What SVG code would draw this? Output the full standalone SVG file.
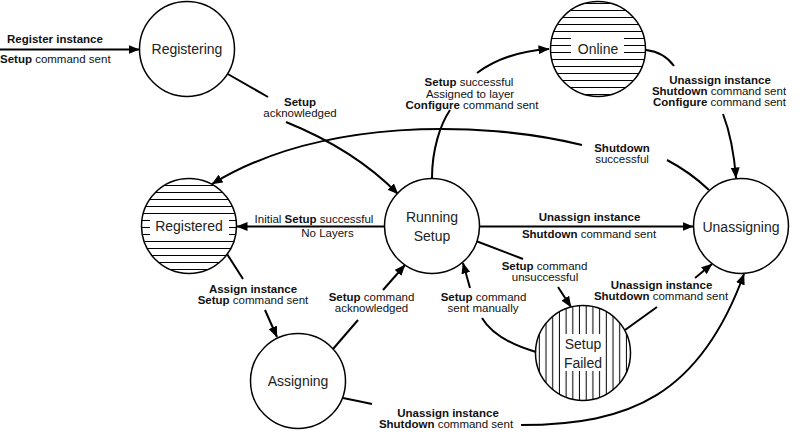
<svg xmlns="http://www.w3.org/2000/svg" width="800" height="435" viewBox="0 0 800 435">
<defs>
<style>
.node{fill:#fff;stroke:#000;stroke-width:1.5}
.hz{fill:url(#hz);stroke:#000;stroke-width:1.5}
.vt{fill:url(#vt);stroke:#000;stroke-width:1.5}
.nl{font-family:"Liberation Sans",Arial,sans-serif;font-size:14px;fill:#222;text-anchor:middle}
.el{font-family:"Liberation Sans",Arial,sans-serif;font-size:11.5px;fill:#111;text-anchor:middle}
.st{text-anchor:start}
.b{font-weight:bold}
.c{fill:none;stroke:#000;stroke-width:2}
.a{marker-end:url(#arr)}
.clr{fill:#fff;stroke:none}
</style>
<pattern id="hz" width="10" height="7" patternUnits="userSpaceOnUse"><line x1="0" y1="3.5" x2="10" y2="3.5" stroke="#000" stroke-width="1"/></pattern>
<pattern id="vt" width="6.7" height="10" patternUnits="userSpaceOnUse"><line x1="3.3" y1="0" x2="3.3" y2="10" stroke="#000" stroke-width="1"/></pattern>
<marker id="arr" viewBox="0 0 11 9" refX="10.5" refY="4.5" markerWidth="11" markerHeight="9" markerUnits="userSpaceOnUse" orient="auto"><path d="M0,0 L11,4.5 L0,9 z" fill="#000"/></marker>
</defs>

<g id="connectors">
<path class="c a" d="M0,49.5 L139,49.5"/>
<path class="c" d="M226,73 L268,97"/>
<path class="c a" d="M286,122 Q355,150 398,194"/>
<path class="c" d="M432,178 C432,150 440,125 450,110"/>
<path class="c a" d="M477,73 Q505,52 549,49"/>
<path class="c" d="M646,50 Q664,52 674,66"/>
<path class="c a" d="M723,114 Q733,140 736,178"/>
<path class="c" d="M709,190 Q690,172 667,160"/>
<path class="c a" d="M582,145 C480,120 320,118 212,184"/>
<path class="c a" d="M384.5,226.5 L237,226.5"/>
<path class="c a" d="M479.5,226.5 L693,226.5"/>
<path class="c" d="M476,241 L523,259"/>
<path class="c a" d="M558,287 L571,307"/>
<path class="c" d="M536,352 Q495,340 482,318"/>
<path class="c a" d="M470,288 L463,263"/>
<path class="c" d="M625,330 L657,307"/>
<path class="c a" d="M695,278 L712,264"/>
<path class="c" d="M343,398 Q358,401 372,404"/>
<path class="c a" d="M521,425 C630,425 700,395 744,274"/>
<path class="c" d="M227,254 L243,279"/>
<path class="c a" d="M265,310 L277,337"/>
<path class="c" d="M333,349 L358,320"/>
<path class="c a" d="M383,290 L405,265"/>

<text class="el st b" x="7" y="43">Register instance</text>
<text class="el st" x="0" y="63"><tspan class="b">Setup</tspan> command sent</text>
<text class="el b" x="300" y="106">Setup</text>
<text class="el" x="300" y="117">acknowledged</text>
<text class="el" x="469" y="86"><tspan class="b">Setup</tspan> successful</text>
<text class="el" x="470" y="97.5">Assigned to layer</text>
<text class="el" x="472" y="109"><tspan class="b">Configure</tspan> command sent</text>
<text class="el b" x="720" y="83.5">Unassign instance</text>
<text class="el" x="719" y="94.5"><tspan class="b">Shutdown</tspan> command sent</text>
<text class="el" x="719.5" y="105.5"><tspan class="b">Configure</tspan> command sent</text>
<text class="el b" x="622" y="151.5">Shutdown</text>
<text class="el" x="622" y="162.5">successful</text>
<text class="el" x="314" y="223">Initial <tspan class="b">Setup</tspan> successful</text>
<text class="el" x="327.5" y="237">No Layers</text>
<text class="el b" x="589.5" y="221">Unassign instance</text>
<text class="el" x="589" y="238"><tspan class="b">Shutdown</tspan> command sent</text>
<text class="el" x="544.5" y="269.5"><tspan class="b">Setup</tspan> command</text>
<text class="el" x="545" y="280.5">unsuccessful</text>
<text class="el" x="483.5" y="300.5"><tspan class="b">Setup</tspan> command</text>
<text class="el" x="483" y="311.5">sent manually</text>
<text class="el b" x="661.5" y="289">Unassign instance</text>
<text class="el" x="661" y="300"><tspan class="b">Shutdown</tspan> command sent</text>
<text class="el b" x="448" y="417">Unassign instance</text>
<text class="el" x="446" y="428"><tspan class="b">Shutdown</tspan> command sent</text>
<text class="el b" x="253" y="293">Assign instance</text>
<text class="el" x="253" y="304"><tspan class="b">Setup</tspan> command sent</text>
<text class="el" x="371.5" y="301"><tspan class="b">Setup</tspan> command</text>
<text class="el" x="371.5" y="312">acknowledged</text>
</g>

<g id="registering">
<circle class="node" cx="187" cy="49" r="47.5"/>
<text class="nl" x="187" y="54">Registering</text>
</g>
<g id="online">
<circle class="hz" cx="598" cy="49" r="47.5"/>
<rect class="clr" x="571" y="38" width="53" height="21"/>
<text class="nl" x="598" y="53.5">Online</text>
</g>
<g id="registered">
<circle class="hz" cx="189" cy="226" r="47.5"/>
<rect class="clr" x="150" y="214" width="79" height="25"/>
<text class="nl" x="189" y="231">Registered</text>
</g>
<g id="running-setup">
<circle class="node" cx="432" cy="226" r="47.5"/>
<text class="nl" x="432" y="222">Running</text>
<text class="nl" x="432" y="241">Setup</text>
</g>
<g id="unassigning">
<circle class="node" cx="741" cy="226" r="47.5"/>
<text class="nl" x="741" y="231.5">Unassigning</text>
</g>
<g id="setup-failed">
<circle class="vt" cx="583" cy="353" r="47.5"/>
<rect class="clr" x="562" y="334" width="43" height="37"/>
<text class="nl" x="583" y="349">Setup</text>
<text class="nl" x="583" y="368">Failed</text>
</g>
<g id="assigning">
<circle class="node" cx="298" cy="381" r="47.5"/>
<text class="nl" x="298" y="385.5">Assigning</text>
</g>
</svg>
